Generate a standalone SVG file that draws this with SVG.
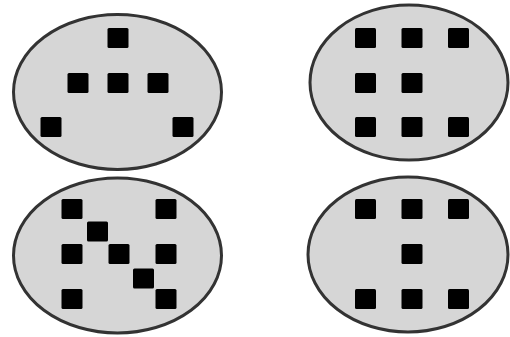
<svg xmlns="http://www.w3.org/2000/svg" width="510" height="337" viewBox="0 0 510 337">
<defs>
<style>
.set{fill:#d6d6d6;stroke:#333;stroke-width:3}
.dot{fill:#000}
</style>
<rect id="d" class="dot" x="-10.5" y="-10" width="21" height="20" rx="1.5"/>
</defs>
<rect width="510" height="337" fill="#fff"/>
<g id="set-top-left">
<ellipse class="set" cx="117.5" cy="92" rx="104" ry="77.5"/>
<use href="#d" x="118" y="38"/>
<use href="#d" x="78" y="83"/>
<use href="#d" x="118" y="83"/>
<use href="#d" x="158" y="83"/>
<use href="#d" x="51" y="127"/>
<use href="#d" x="183" y="127"/>
</g>
<g id="set-top-right">
<ellipse class="set" cx="409" cy="82.5" rx="99" ry="77.5"/>
<use href="#d" x="365.5" y="38"/>
<use href="#d" x="412" y="38"/>
<use href="#d" x="458.5" y="38"/>
<use href="#d" x="365.5" y="83"/>
<use href="#d" x="412" y="83"/>
<use href="#d" x="365.5" y="127"/>
<use href="#d" x="412" y="127"/>
<use href="#d" x="458.5" y="127"/>
</g>
<g id="set-bottom-left">
<ellipse class="set" cx="117.5" cy="255.5" rx="104" ry="77.5"/>
<use href="#d" x="72" y="209"/>
<use href="#d" x="166" y="209"/>
<use href="#d" x="97.5" y="231.5"/>
<use href="#d" x="72" y="254"/>
<use href="#d" x="119" y="254"/>
<use href="#d" x="166" y="254"/>
<use href="#d" x="143.5" y="278.5"/>
<use href="#d" x="72" y="299"/>
<use href="#d" x="166" y="299"/>
</g>
<g id="set-bottom-right">
<ellipse class="set" cx="408" cy="254.5" rx="100" ry="77.5"/>
<use href="#d" x="365.5" y="209"/>
<use href="#d" x="412" y="209"/>
<use href="#d" x="458.5" y="209"/>
<use href="#d" x="412" y="254"/>
<use href="#d" x="365.5" y="299"/>
<use href="#d" x="412" y="299"/>
<use href="#d" x="458.5" y="299"/>
</g>
<g id="connectors"/>
</svg>
